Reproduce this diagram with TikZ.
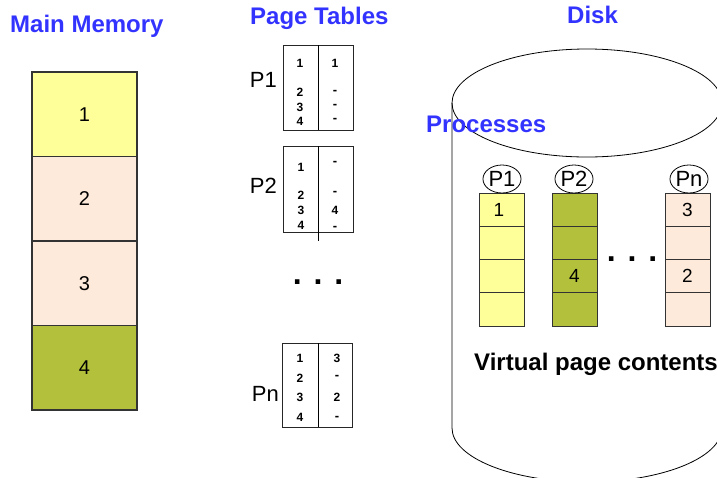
\documentclass[tikz,border=0pt]{standalone}
\usepackage{fontspec}
\setmainfont{Liberation Sans}
\usetikzlibrary{shapes.geometric}
\definecolor{titleblue}{RGB}{51,51,255}
\definecolor{pageyellow}{RGB}{255,255,153}
\definecolor{pagepeach}{RGB}{253,234,218}
\definecolor{pageolive}{RGB}{179,192,60}
\newcommand{\fsz}[1]{\fontsize{#1}{#1}\selectfont}
\tikzset{
  title/.style={anchor=base west, inner sep=0, text=titleblue, font=\fsz{24}\bfseries},
  memcell/.style={draw=black!80, line width=1.2pt, minimum width=105pt, minimum height=84.5pt, inner sep=0, font=\fsz{20}},
  diskcell/.style={draw=black!80, line width=0.9pt, minimum width=45pt, minimum height=33.25pt, inner sep=0, font=\fsz{19}},
  ptable/.style={draw=black!85, line width=0.8pt, inner sep=0},
  pnum/.style={inner sep=0, font=\fsz{12}\bfseries},
  pdash/.style={inner sep=0, font=\fsz{13}\bfseries},
  plabel/.style={anchor=east, inner sep=0, font=\fsz{22}},
  pbubble/.style={ellipse, draw, fill=white, line width=0.8pt, minimum width=36pt, minimum height=28pt, inner sep=0, font=\fsz{22}},
  dots/.style={anchor=base, inner sep=0, font=\fsz{32}\bfseries},
}
\begin{document}
\begin{tikzpicture}[x=1pt,y=-1pt]
\useasboundingbox (0,0) rectangle (717,477);
\begin{scope}
\clip (0,0) rectangle (717,477);

% ---- disk cylinder ----
\draw[line width=0.8pt] (452,103) -- (452,428) arc[start angle=180, end angle=360, x radius=135, y radius=-54];
\draw[line width=0.8pt] (587,103) ellipse[x radius=135, y radius=54];

% ---- titles ----
\node[title] (tmem) at (10,32) {Main Memory};
\node[title] (tpt) at (250,24) {Page Tables};
\node[title] (tdisk) at (567,23) {Disk};
\node[title] (tproc) at (426,132) {Processes};

% ---- main memory frames ----
\node[memcell, fill=pageyellow] (m1) at (84.5,114.25) {1};
\node[memcell, fill=pagepeach]  (m2) at (84.5,198.75) {2};
\node[memcell, fill=pagepeach]  (m3) at (84.5,283.25) {3};
\node[memcell, fill=pageolive]  (m4) at (84.5,367.75) {4};

% ---- page tables ----
% P1
\node[ptable, minimum width=70pt, minimum height=85pt] (pt1) at (318,87.5) {};
\draw[line width=0.8pt] (318,45) -- (318,130);
\node[plabel] (lp1) at (277,80) {P1};
\node[pnum] (a11) at (300,63) {1};   \node[pnum] (b11) at (335,63) {1};
\node[pnum] (a12) at (300,92) {2};   \node[pdash] (b12) at (335,92) {-};
\node[pnum] (a13) at (300,107) {3};  \node[pdash] (b13) at (335,106) {-};
\node[pnum] (a14) at (300,121) {4};  \node[pdash] (b14) at (335,120) {-};
% P2
\node[ptable, minimum width=70pt, minimum height=86pt] (pt2) at (318,189) {};
\draw[line width=0.8pt] (318,146) -- (318,241);
\node[plabel] (lp2) at (277,186) {P2};
\node[pnum] (a21) at (301,167) {1};  \node[pdash] (b21) at (335,163) {-};
\node[pnum] (a22) at (301,195) {2};  \node[pdash] (b22) at (335,193) {-};
\node[pnum] (a23) at (301,210) {3};  \node[pnum] (b23) at (335,210) {4};
\node[pnum] (a24) at (301,225) {4};  \node[pdash] (b24) at (335,228) {-};
% Pn
\node[ptable, minimum width=70pt, minimum height=84pt] (ptn) at (317,385) {};
\draw[line width=0.8pt] (318,343) -- (318,427);
\node[plabel] (lpn) at (279,394) {Pn};
\node[pnum] (an1) at (300,358) {1};  \node[pnum] (bn1) at (337,358) {3};
\node[pnum] (an2) at (300,378) {2};  \node[pdash] (bn2) at (337,377) {-};
\node[pnum] (an3) at (300,397) {3};  \node[pnum] (bn3) at (337,397) {2};
\node[pnum] (an4) at (300,417) {4};  \node[pdash] (bn4) at (337,418) {-};

\node[dots] (dt) at (318,284.5) {. . .};

% ---- process address spaces on disk ----
\foreach \col/\cx/\fillc in {p/501.5/pageyellow, q/574.5/pageolive, r/687.5/pagepeach} {
  \foreach \row in {1,...,4} {
    \node[diskcell, fill=\fillc] (\col\row) at (\cx,{193+33.25*(\row-0.5)}) {};
  }
}
\node[font=\fsz{19}, inner sep=0] (v11) at ([xshift=-2.5pt]p1.center) {1};
\node[font=\fsz{19}, inner sep=0] (v24) at (q3.center) {4};
\node[font=\fsz{19}, inner sep=0] (vn3) at (r1.center) {3};
\node[font=\fsz{19}, inner sep=0] (vn2) at (r3.center) {2};

\node[pbubble] (c1) at (502,179) {P1};
\node[pbubble] (c2) at (574,179) {P2};
\node[pbubble] (cn) at (689,179) {Pn};

\node[dots] (dd) at (632,261.5) {. . .};

\node[anchor=base west, inner sep=0, font=\fsz{24}\bfseries] (vpc) at (474,370) {Virtual page contents};
\end{scope}
\end{tikzpicture}
\end{document}
